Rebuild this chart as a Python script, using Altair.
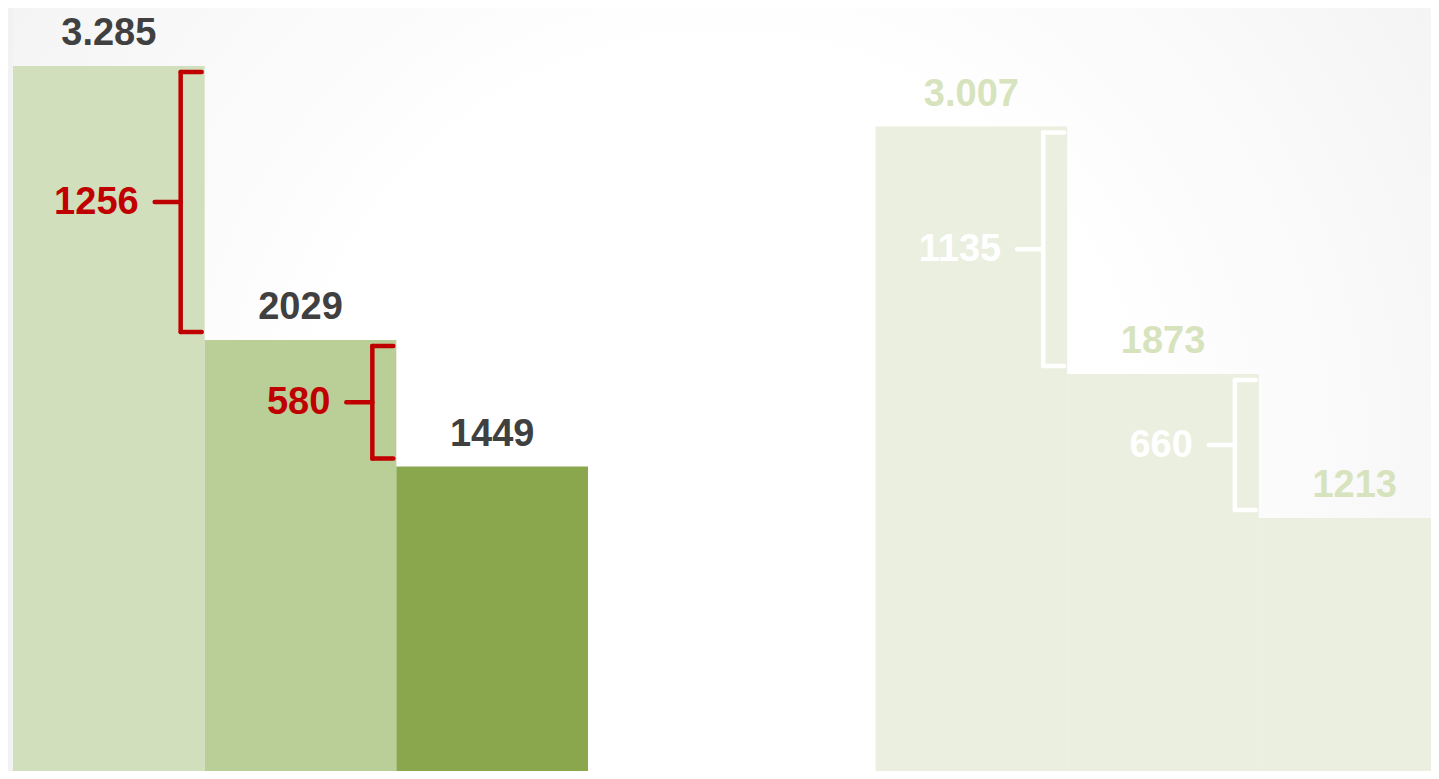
import altair as alt
import pandas as pd

# ---- data ----
groups = ["A", "B"]
bar_labels = [["3.285", "2029", "1449"], ["3.007", "1873", "1213"]]
bar_values = [[3285, 2029, 1449], [3007, 1873, 1213]]
diff_values = [[1256, 580], [1135, 660]]

# ---- styles ----
bar_colors = [["#d1dfbd", "#bacf98", "#8aa74e"], ["#ebefdf", "#ebefdf", "#ebefdf"]]
label_colors = ["#404040", "#d7e3bd"]
brace_colors = ["#c00000", "#ffffff"]
FONT = "Liberation Sans, Arial, sans-serif"

W, H = 1418, 763
SLOT_PX = 191.67          # width of one bar in pixels
PX_PER_UNIT = 0.21815     # vertical pixels per value unit
TOP_UNITS = 774.6 / PX_PER_UNIT
x_dom = [0, W / SLOT_PX]
y_dom = [TOP_UNITS - H / PX_PER_UNIT, TOP_UNITS]
GROUP_STEP = 4.5

bar_rows, brace_rows = [], []
for g, name in enumerate(groups):
    for i, v in enumerate(bar_values[g]):
        x0 = g * GROUP_STEP + i
        bar_rows.append(dict(group=name, x0=x0, x1=x0 + 1, xc=x0 + 0.5, value=v, base=0,
                             label=bar_labels[g][i], fill=bar_colors[g][i],
                             lcolor=label_colors[g]))
    for i, d in enumerate(diff_values[g]):
        top, bot = bar_values[g][i], bar_values[g][i + 1]
        brace_rows.append(dict(group=name, xe=g * GROUP_STEP + i + 1, top=top, bot=bot,
                               mid=(top + bot) / 2, diff=str(d), col=brace_colors[g]))

bars = pd.DataFrame(bar_rows)
braces = pd.DataFrame(brace_rows)

xs = alt.Scale(domain=x_dom, nice=False, zero=False)
ys = alt.Scale(domain=y_dom, nice=False, zero=False)

bg = alt.Chart(pd.DataFrame({"a": [0]})).mark_rect(
    fill=alt.Gradient(gradient="radial",
                      stops=[alt.GradientStop(color="#ffffff", offset=0),
                             alt.GradientStop(color="#ffffff", offset=0.4),
                             alt.GradientStop(color="#f0f0f0", offset=1)],
                      x1=0.5, y1=0.55, r1=0, x2=0.5, y2=0.55, r2=0.72)
).encode(x=alt.value(0), x2=alt.value(W), y=alt.value(0), y2=alt.value(H))

rects = alt.Chart(bars).mark_rect(clip=True).encode(
    x=alt.X("x0:Q", scale=xs, axis=None), x2="x1:Q",
    y=alt.Y("value:Q", scale=ys, axis=None), y2="base:Q",
    color=alt.Color("fill:N", scale=None),
)

vlabels = alt.Chart(bars).mark_text(font=FONT, fontSize=38, fontWeight="bold",
                                    baseline="alphabetic", dy=-21, clip=True).encode(
    x=alt.X("xc:Q", scale=xs), y=alt.Y("value:Q", scale=ys), text="label:N",
    color=alt.Color("lcolor:N", scale=None),
)

bx = alt.X("xe:Q", scale=xs)
bcol = alt.Color("col:N", scale=None)
SW = 4.5
vert = alt.Chart(braces).mark_rule(strokeWidth=SW, strokeCap="round", xOffset=-24,
                                   yOffset=6, y2Offset=-8).encode(
    x=bx, y=alt.Y("top:Q", scale=ys), y2="bot:Q", color=bcol)
hook_top = alt.Chart(braces).mark_rule(strokeWidth=SW, strokeCap="round", xOffset=-24,
                                       x2Offset=-3, yOffset=6).encode(
    x=bx, x2="xe:Q", y=alt.Y("top:Q", scale=ys), color=bcol)
hook_bot = alt.Chart(braces).mark_rule(strokeWidth=SW, strokeCap="round", xOffset=-24,
                                       x2Offset=-3, yOffset=-8).encode(
    x=bx, x2="xe:Q", y=alt.Y("bot:Q", scale=ys), color=bcol)
tick = alt.Chart(braces).mark_rule(strokeWidth=SW, strokeCap="round", xOffset=-50,
                                   x2Offset=-24, yOffset=-1).encode(
    x=bx, x2="xe:Q", y=alt.Y("mid:Q", scale=ys), color=bcol)
dlabels = alt.Chart(braces).mark_text(font=FONT, fontSize=38, fontWeight="bold",
                                      align="right", baseline="middle", dx=-66).encode(
    x=bx, y=alt.Y("mid:Q", scale=ys), text="diff:N", color=bcol)

chart = alt.layer(bg, rects, vlabels, vert, hook_top, hook_bot, tick, dlabels).properties(
    width=W, height=H,
    padding={"left": 5, "top": 0, "right": 0, "bottom": 0},
    background="#f2f2f2",
).configure_view(stroke=None)

chart.save("out.html", embed_options={"renderer": "svg", "actions": False})
